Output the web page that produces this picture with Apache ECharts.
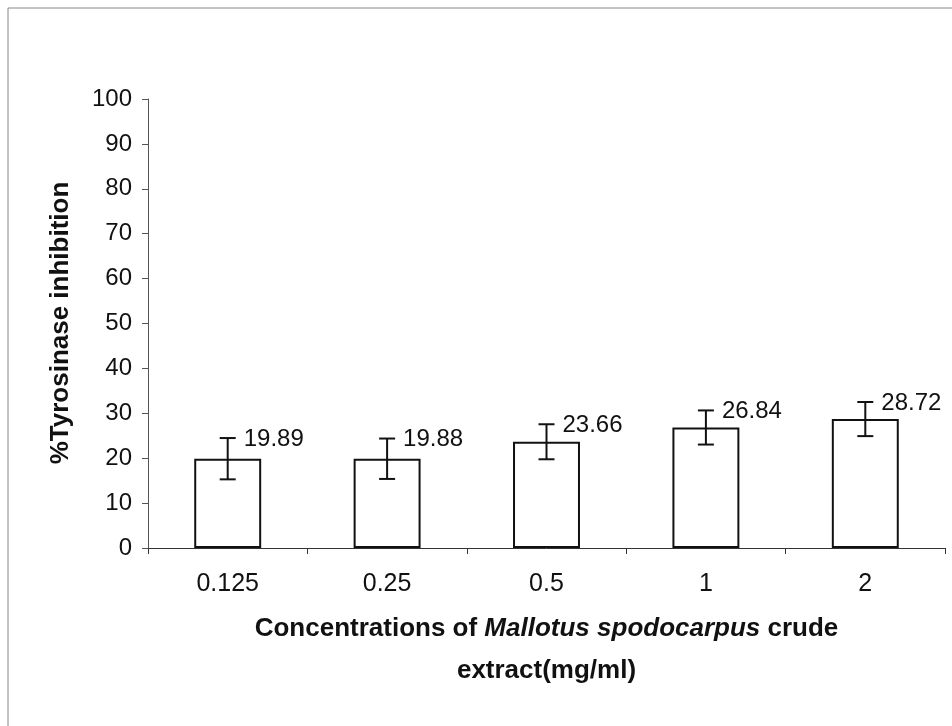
<!DOCTYPE html>
<html>
<head>
<meta charset="utf-8">
<script src="https://cdn.jsdelivr.net/npm/echarts@6/dist/echarts.min.js"></script>
<style>
  html, body { margin: 0; padding: 0; background: #fff; }
  #main { width: 952px; height: 726px; }
</style>
</head>
<body>
<div id="main"></div>
<script>
// data
var concentrations = ['0.125', '0.25', '0.5', '1', '2'];
var inhibition = [19.89, 19.88, 23.66, 26.84, 28.72];
var sdValues = [4.6, 4.5, 3.9, 3.8, 3.8];
var yTicks = { min: 0, max: 100, interval: 10 };

var chart = echarts.init(document.getElementById('main'));
var font = 'Liberation Sans, Arial, sans-serif';

var errData = inhibition.map(function (v, i) { return [i, v, sdValues[i]]; });

var option = {
  animation: false,
  backgroundColor: '#fff',
  grid: { left: 148, right: 7, top: 99, bottom: 178 },
  graphic: [
    {
      type: 'polyline',
      shape: { points: [[8, 726], [8, 8], [952, 8]] },
      style: { stroke: '#888', lineWidth: 1, fill: null }
    },
    {
      type: 'text',
      x: 61, y: 323, rotation: Math.PI / 2,
      style: {
        text: '%Tyrosinase inhibition',
        font: 'bold 26px ' + font,
        fill: '#111',
        align: 'center', verticalAlign: 'middle'
      }
    }
  ],
  xAxis: {
    type: 'category',
    data: concentrations,
    axisLine: { lineStyle: { color: '#333', width: 1 } },
    axisTick: { show: true, length: 6, lineStyle: { color: '#333' } },
    axisLabel: { color: '#111', fontSize: 25, fontFamily: font, margin: 24 },
    name: '{b|Concentrations of }{i|Mallotus spodocarpus}{b| crude}\n{b|extract(mg/ml)}',
    nameLocation: 'middle',
    nameGap: 60,
    nameTextStyle: {
      lineHeight: 42,
      rich: {
        b: { fontSize: 26, fontWeight: 'bold', fontFamily: font, color: '#111', lineHeight: 42 },
        i: { fontSize: 26, fontWeight: 'bold', fontStyle: 'italic', fontFamily: font, color: '#111', lineHeight: 42 }
      }
    }
  },
  yAxis: {
    type: 'value',
    min: yTicks.min, max: yTicks.max, interval: yTicks.interval,
    axisLine: { show: true, lineStyle: { color: '#555', width: 1 } },
    axisTick: { show: true, length: 6, lineStyle: { color: '#555' } },
    axisLabel: { color: '#111', fontSize: 24, fontFamily: font, margin: 16 },
    splitLine: { show: false }
  },
  series: [
    {
      type: 'bar',
      data: inhibition,
      barWidth: '42%',
      itemStyle: { color: '#fff', borderColor: '#111', borderWidth: 2 },
      z: 2
    },
    {
      type: 'custom',
      data: errData,
      z: 3,
      renderItem: function (params, api) {
        var i = api.value(0), v = api.value(1), sd = api.value(2);
        var top = api.coord([i, v + sd]);
        var bot = api.coord([i, v - sd]);
        var cap = 8;
        var style = { stroke: '#111', lineWidth: 2 };
        return {
          type: 'group',
          children: [
            { type: 'line', shape: { x1: top[0], y1: top[1], x2: bot[0], y2: bot[1] }, style: style },
            { type: 'line', shape: { x1: top[0] - cap, y1: top[1], x2: top[0] + cap, y2: top[1] }, style: style },
            { type: 'line', shape: { x1: bot[0] - cap, y1: bot[1], x2: bot[0] + cap, y2: bot[1] }, style: style },
            {
              type: 'text',
              x: top[0] + 16, y: top[1] + 1,
              style: {
                text: v.toFixed(2),
                font: '24px ' + font,
                fill: '#111',
                align: 'left', verticalAlign: 'middle'
              }
            }
          ]
        };
      }
    }
  ]
};

chart.setOption(option);
</script>
</body>
</html>
